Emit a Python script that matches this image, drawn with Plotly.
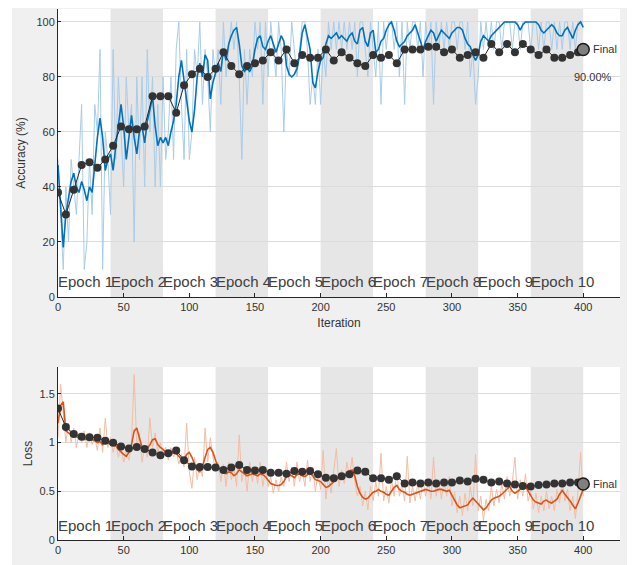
import plotly.graph_objects as go

# ---------------- data ----------------
iters = list(range(0, 401, 2))
val_iters = list(range(0, 397, 6)) + [400]
n_epochs = 10
iters_per_epoch = 40
epoch_labels = [f"Epoch {i}" for i in range(1, n_epochs + 1)]
x_ticks = [0, 50, 100, 150, 200, 250, 300, 350, 400]
acc_ticks = [0, 20, 40, 60, 80, 100]
loss_ticks = [0, 0.5, 1, 1.5]
loss_ticktext = ["0", "0.5", "1", "1.5"]

acc_smooth = [
    48, 32, 18, 30, 36, 42, 45, 40, 38, 42,
    39, 35, 40, 38, 48, 58, 65, 58, 46, 50,
    52, 46, 55, 63, 70, 62, 50, 58, 66, 58,
    52, 60, 62, 56, 64, 68, 73, 62, 55, 58,
    56, 58, 55, 60, 64, 70, 80, 86, 78, 70,
    64, 60, 68, 80, 85, 80, 88, 86, 72, 78,
    82, 85, 82, 90, 86, 92, 95, 97, 98, 92,
    84, 82, 83, 82, 84, 90, 94, 95, 91, 90,
    93, 95, 92, 89, 92, 95, 93, 84, 81, 80,
    81, 83, 88, 96, 99, 95, 90, 78, 76, 82,
    86, 87, 92, 95, 94, 95, 96, 94, 95, 94,
    93, 95, 96, 93, 92, 97, 98, 93, 91, 96,
    97, 89, 90, 93, 94, 97, 99, 100, 97, 93,
    91, 92, 93, 95, 96, 97, 99, 96, 93, 90,
    93, 95, 97, 96, 93, 95, 97, 96, 95, 94,
    96, 97, 98, 98, 97, 94, 92, 91, 88, 86,
    88, 93, 95, 94, 93, 95, 96, 97, 98, 99,
    100, 100, 100, 100, 100, 99, 97, 99, 100, 100,
    100, 100, 100, 99, 97, 96, 97, 98, 99, 98,
    96, 95, 95, 97, 98, 96, 94, 97, 99, 100,
    98,
]

acc_raw = [
    50, 30, 10, 40, 20, 50, 40, 30, 50, 70,
    10, 20, 50, 30, 70, 60, 90, 10, 60, 50,
    30, 90, 50, 80, 60, 40, 80, 60, 70, 20,
    80, 50, 80, 40, 90, 60, 80, 40, 70, 40,
    80, 50, 60, 80, 50, 90, 100, 70, 50, 90,
    50, 60, 90, 80, 100, 70, 90, 80, 60, 90,
    80, 90, 70, 100, 80, 90, 100, 90, 100, 80,
    50, 90, 70, 90, 80, 100, 90, 100, 70, 100,
    80, 100, 90, 80, 100, 90, 60, 90, 80, 100,
    90, 80, 90, 100, 100, 90, 70, 80, 70, 90,
    70, 90, 80, 100, 90, 100, 90, 100, 90, 100,
    90, 100, 90, 100, 80, 100, 100, 90, 80, 100,
    90, 80, 100, 70, 100, 90, 100, 100, 90, 100,
    80, 100, 70, 100, 90, 100, 100, 90, 100, 80,
    100, 90, 100, 70, 100, 90, 100, 90, 100, 90,
    100, 100, 90, 100, 100, 90, 100, 80, 90, 70,
    80, 100, 90, 100, 90, 100, 90, 100, 100, 90,
    100, 100, 100, 90, 100, 100, 90, 100, 100, 100,
    90, 100, 100, 90, 100, 90, 100, 100, 90, 100,
    90, 100, 90, 100, 100, 90, 100, 90, 100, 100,
    100,
]

acc_val = [
    38, 30, 39, 48, 49, 47, 50, 55, 62, 61,
    61, 62, 73, 73, 73, 67, 77, 81, 83, 80,
    83, 89, 84, 81, 84, 85, 86, 89, 86, 90,
    85, 88, 87, 87, 90, 86, 89, 87, 85, 84,
    88, 87, 88, 85, 90, 90, 90, 91, 91, 89,
    90, 87, 88, 89, 87, 92, 89, 92, 89, 92,
    90, 88, 90, 87, 87, 88, 89,
    90,
]

loss_smooth = [
    1.20, 1.38, 1.42, 1.12, 1.10, 1.08, 1.07, 1.06, 1.05, 1.04,
    1.03, 1.04, 1.05, 1.03, 1.02, 1.00, 1.01, 0.98, 1.02, 1.00,
    0.98, 0.99, 0.97, 0.93, 0.90, 0.88, 0.86, 0.90, 0.98, 1.12,
    1.15, 1.05, 0.95, 0.92, 0.94, 0.98, 1.03, 1.04, 0.98, 0.95,
    0.93, 0.90, 0.89, 0.88, 0.90, 0.89, 0.86, 0.83, 0.82, 0.88,
    0.90, 0.85, 0.78, 0.72, 0.70, 0.75, 0.85, 0.93, 0.95, 0.90,
    0.82, 0.75, 0.72, 0.70, 0.68, 0.70, 0.69, 0.66, 0.68, 0.72,
    0.70, 0.68, 0.66, 0.67, 0.68, 0.67, 0.66, 0.68, 0.67, 0.65,
    0.62, 0.58, 0.57, 0.56, 0.56, 0.57, 0.60, 0.65, 0.67, 0.66,
    0.64, 0.67, 0.68, 0.66, 0.65, 0.67, 0.69, 0.66, 0.62, 0.61,
    0.60, 0.57, 0.54, 0.55, 0.58, 0.60, 0.62, 0.64, 0.63, 0.66,
    0.68, 0.71, 0.72, 0.66, 0.55, 0.48, 0.44, 0.42, 0.43, 0.46,
    0.49, 0.50, 0.52, 0.50, 0.49, 0.47, 0.46, 0.50, 0.54, 0.56,
    0.52, 0.50, 0.49, 0.47, 0.46, 0.47, 0.48, 0.49, 0.50, 0.51,
    0.52, 0.51, 0.50, 0.50, 0.51, 0.52, 0.52, 0.51, 0.50, 0.51,
    0.46, 0.40, 0.36, 0.33, 0.34, 0.35, 0.36, 0.40, 0.43, 0.40,
    0.37, 0.34, 0.31, 0.33, 0.37, 0.41, 0.43, 0.44, 0.45, 0.47,
    0.50, 0.53, 0.55, 0.50, 0.48, 0.50, 0.52, 0.54, 0.55, 0.50,
    0.45, 0.41, 0.39, 0.38, 0.37, 0.40, 0.41, 0.39, 0.38, 0.40,
    0.42, 0.47, 0.51, 0.47, 0.44, 0.40, 0.36, 0.32, 0.38, 0.46,
    0.52,
]

loss_raw = [
    1.05, 1.60, 1.30, 1.00, 1.20, 1.00, 1.15, 0.95, 1.10, 1.00,
    1.12, 0.95, 1.10, 0.98, 1.05, 0.92, 1.15, 0.90, 1.25, 0.95,
    1.05, 0.90, 1.00, 0.85, 0.95, 0.80, 0.92, 0.82, 1.00, 1.70,
    0.95, 1.10, 0.80, 0.95, 0.85, 1.25, 0.95, 1.10, 0.90, 1.00,
    0.88, 0.95, 0.82, 0.95, 0.85, 0.92, 0.78, 0.88, 0.75, 1.20,
    0.70, 0.53, 0.85, 0.62, 0.78, 0.65, 1.15, 0.80, 1.05, 0.85,
    0.72, 0.80, 0.60, 0.78, 0.55, 0.80, 0.62, 0.75, 0.55, 1.08,
    0.60, 0.75, 0.50, 0.80, 0.60, 0.75, 0.58, 0.80, 0.55, 0.72,
    0.55, 0.65, 0.48, 0.62, 0.50, 0.65, 0.55, 0.80, 0.60, 0.75,
    0.55, 0.80, 0.60, 0.72, 0.55, 0.82, 0.60, 0.75, 0.50, 0.68,
    0.52, 0.92, 0.42, 0.65, 0.48, 0.70, 0.94, 0.55, 0.72, 0.58,
    0.80, 0.65, 0.85, 0.60, 0.45, 0.55, 0.35, 0.50, 0.31, 0.55,
    0.40, 0.60, 0.45, 0.89, 0.40, 0.55, 0.38, 0.62, 0.45, 0.70,
    0.45, 0.58, 0.40, 0.86, 0.38, 0.55, 0.40, 0.58, 0.42, 0.62,
    0.45, 0.60, 0.42, 0.85, 0.45, 0.62, 0.42, 0.60, 0.45, 0.65,
    0.35, 0.50, 0.28, 0.45, 0.25, 0.48, 0.30, 0.55, 0.35, 0.88,
    0.30, 0.45, 0.20, 0.42, 0.30, 0.55, 0.35, 0.52, 0.38, 0.58,
    0.42, 0.65, 0.45, 0.60, 0.85, 0.42, 0.62, 0.45, 0.68, 0.40,
    0.50, 0.32, 0.48, 0.28, 0.45, 0.30, 0.50, 0.32, 0.45, 0.30,
    0.52, 0.38, 0.62, 0.40, 0.52, 0.30, 0.45, 0.22, 0.50, 0.90,
    0.45,
]

loss_val = [
    1.35, 1.16, 1.09, 1.06, 1.055, 1.05, 1.02, 1.00, 0.96, 0.94,
    0.955, 0.935, 0.90, 0.87, 0.89, 0.92, 0.82, 0.755, 0.75, 0.75,
    0.745, 0.72, 0.745, 0.77, 0.72, 0.715, 0.72, 0.69, 0.69, 0.68,
    0.71, 0.70, 0.71, 0.675, 0.64, 0.635, 0.655, 0.675, 0.715, 0.70,
    0.635, 0.635, 0.62, 0.655, 0.58, 0.59, 0.58, 0.59, 0.58, 0.59,
    0.59, 0.61, 0.60, 0.63, 0.62, 0.59, 0.60, 0.58, 0.57, 0.555,
    0.55, 0.565, 0.57, 0.58, 0.58, 0.59, 0.59,
    0.575,
]

final_acc_text = "90.00%"

# ---------------- styling ----------------
FONT = "Liberation Sans, Arial, sans-serif"
AX = "#262626"
TXT = "#333333"
BAND = "#e6e6e6"
GRID = "#dcdcdc"

fig = go.Figure()

# accuracy
fig.add_trace(go.Scatter(x=iters, y=acc_raw, mode="lines",
                         line=dict(color="#a9cce9", width=1), xaxis="x", yaxis="y"))
fig.add_trace(go.Scatter(x=iters, y=acc_smooth, mode="lines",
                         line=dict(color="#0072BD", width=1.6), xaxis="x", yaxis="y"))
fig.add_trace(go.Scatter(x=val_iters, y=acc_val, mode="lines+markers",
                         line=dict(color="#262626", width=1),
                         marker=dict(color="#333333", size=8),
                         xaxis="x", yaxis="y"))
fig.add_trace(go.Scatter(x=[val_iters[-1]], y=[acc_val[-1]], mode="markers",
                         marker=dict(color="#7f7f7f", size=12,
                                     line=dict(color="#1a1a1a", width=1.5)),
                         xaxis="x", yaxis="y"))

# loss
fig.add_trace(go.Scatter(x=iters, y=loss_raw, mode="lines",
                         line=dict(color="#f3bda4", width=1), xaxis="x2", yaxis="y2"))
fig.add_trace(go.Scatter(x=iters, y=loss_smooth, mode="lines",
                         line=dict(color="#D95319", width=1.6), xaxis="x2", yaxis="y2"))
fig.add_trace(go.Scatter(x=val_iters, y=loss_val, mode="lines+markers",
                         line=dict(color="#262626", width=1),
                         marker=dict(color="#333333", size=8),
                         xaxis="x2", yaxis="y2"))
fig.add_trace(go.Scatter(x=[val_iters[-1]], y=[loss_val[-1]], mode="markers",
                         marker=dict(color="#7f7f7f", size=12,
                                     line=dict(color="#1a1a1a", width=1.5)),
                         xaxis="x2", yaxis="y2"))

# geometry (page has an 8px body margin)
W, H = 627, 557
L, R, T, B = 50, 15, 1, 25
PW, PH = W - L - R, H - T - B

# epoch shading
shapes = []
for ep in range(2, n_epochs + 1, 2):
    for xr, yr in (("x", "y domain"), ("x2", "y2 domain")):
        shapes.append(dict(type="rect", xref=xr, yref=yr,
                           x0=(ep - 1) * iters_per_epoch, x1=ep * iters_per_epoch,
                           y0=0, y1=1, fillcolor=BAND, line=dict(width=0),
                           layer="below"))
shapes.append(dict(type="rect", xref="paper", yref="paper",
                   x0=-L / PW, x1=-(L - 4) / PW, y0=-B / PH, y1=1 + T / PH,
                   fillcolor="white", line=dict(width=0), layer="below"))

annotations = []
for i, lab in enumerate(epoch_labels):
    for xr, yr, yv in (("x", "y", 5.8), ("x2", "y2", 0.145)):
        annotations.append(dict(text=lab, x=i * iters_per_epoch, y=yv, xref=xr, yref=yr,
                                xanchor="left", yanchor="middle", showarrow=False,
                                xshift=-2, font=dict(size=15, color="#404040", family=FONT)))
annotations.append(dict(text="Final", x=val_iters[-1], y=acc_val[-1], xref="x", yref="y",
                        xanchor="left", yanchor="middle", showarrow=False, xshift=8,
                        font=dict(size=11, color=TXT, family=FONT)))
annotations.append(dict(text=final_acc_text, x=val_iters[-1], y=acc_val[-1], xref="x", yref="y",
                        xanchor="left", yanchor="middle", showarrow=False, xshift=-11, yshift=-28,
                        font=dict(size=11, color=TXT, family=FONT)))
annotations.append(dict(text="Final", x=val_iters[-1], y=loss_val[-1], xref="x2", yref="y2",
                        xanchor="left", yanchor="middle", showarrow=False, xshift=8,
                        font=dict(size=11, color=TXT, family=FONT)))

top_dom = [(532 - 289) / PH, 1.0]
bot_dom = [0.0, (532 - 359) / PH]

xcommon = dict(range=[0, 428], tickvals=x_ticks, showline=True, linecolor=AX, linewidth=1,
               ticks="inside", ticklen=4, tickcolor=AX, showgrid=False, zeroline=False,
               tickfont=dict(size=11, color=TXT, family=FONT))
ycommon = dict(showline=True, linecolor=AX, linewidth=1, ticks="inside", ticklen=3,
               tickcolor=AX, showgrid=True, gridcolor=GRID, gridwidth=1, zeroline=False,
               tickfont=dict(size=11, color=TXT, family=FONT))

fig.update_layout(
    width=W, height=H,
    margin=dict(l=L, r=R, t=T, b=B),
    paper_bgcolor="#f0f0f0", plot_bgcolor="white",
    showlegend=False,
    font=dict(family=FONT, color=TXT),
    xaxis=dict(domain=[0, 1], anchor="y",
               title=dict(text="Iteration", standoff=6, font=dict(size=12, color=TXT)),
               **xcommon),
    yaxis=dict(domain=top_dom, anchor="x", range=[0, 104.7], tickvals=acc_ticks,
               title=dict(text="Accuracy (%)", standoff=8, font=dict(size=12, color=TXT)),
               **ycommon),
    xaxis2=dict(domain=[0, 1], anchor="y2", **xcommon),
    yaxis2=dict(domain=bot_dom, anchor="x2", range=[0, 1.777], tickvals=loss_ticks,
                ticktext=loss_ticktext,
                title=dict(text="Loss", standoff=4, font=dict(size=12, color=TXT)),
                **ycommon),
    shapes=shapes,
    annotations=annotations,
)

fig.write_html("out.html")
